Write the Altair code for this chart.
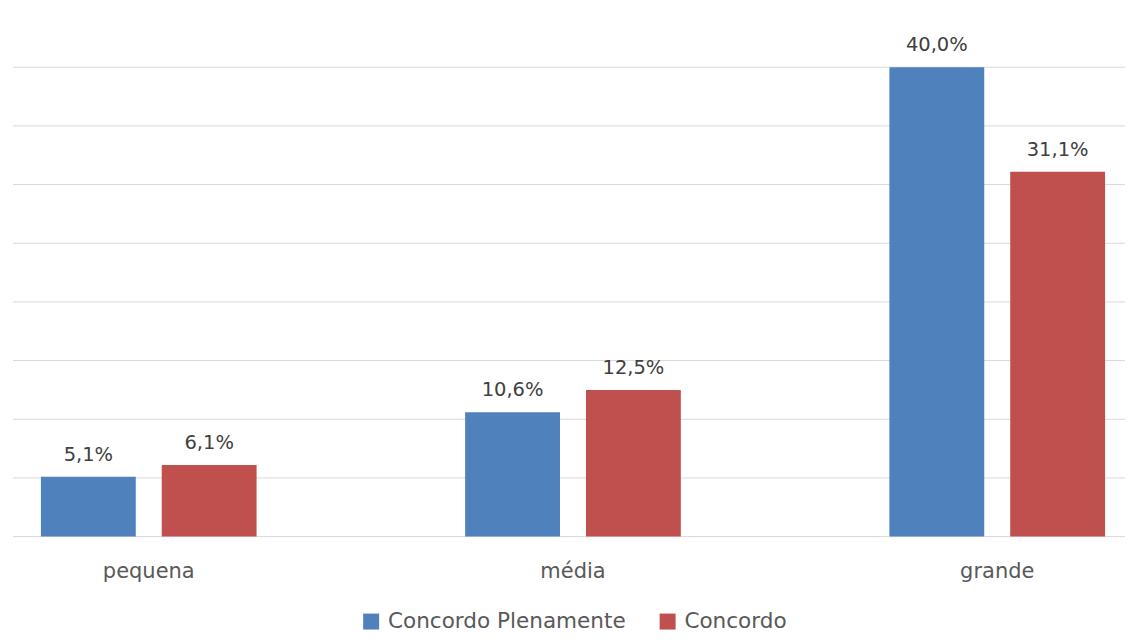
import altair as alt
import pandas as pd

categories = ["pequena", "média", "grande"]
series = ["Concordo Plenamente", "Concordo"]
plenamente = [5.1, 10.6, 40.0]
concordo = [6.1, 12.5, 31.1]
colors = ["#4F81BD", "#C0504D"]
grid_values = [0, 5, 10, 15, 20, 25, 30, 35, 40]

rows = []
for i, c in enumerate(categories):
    for s, vals in zip(series, [plenamente, concordo]):
        v = vals[i]
        rows.append({"cat": c, "serie": s, "valor": v,
                     "rotulo": f"{v:.1f}".replace(".", ",") + "%"})
df = pd.DataFrame(rows)
grid_df = pd.DataFrame({"g": grid_values})
cat_df = pd.DataFrame({"cat": categories})

FONT = "DejaVu Sans"
W, H = 1114, 529

y_scale = alt.Scale(domain=[0, 45], nice=False)
x_scale = alt.Scale(domain=categories, range=[-76.5, 1198.5], paddingInner=0, paddingOuter=0)

x_enc = alt.X("cat:N", sort=categories, scale=x_scale, axis=None)
xoff_enc = alt.XOffset("serie:N", sort=series,
                       scale=alt.Scale(paddingInner=0.215, paddingOuter=0.863))
y_enc = alt.Y("valor:Q", scale=y_scale, axis=None)

grid = alt.Chart(grid_df).mark_rule(color="#d9d9d9", strokeWidth=1).encode(
    x=alt.value(0), x2=alt.value(W),
    y=alt.Y("g:Q", scale=y_scale, axis=None),
)

bars = alt.Chart(df).mark_bar().encode(
    x=x_enc,
    xOffset=xoff_enc,
    y=y_enc,
    color=alt.Color("serie:N", sort=series,
                    scale=alt.Scale(domain=series, range=colors),
                    legend=alt.Legend(title=None, orient="none", direction="horizontal",
                                      legendX=348, legendY=603,
                                      symbolType="square", symbolSize=256,
                                      symbolStrokeWidth=0, labelFont=FONT,
                                      labelFontSize=21.6, labelColor="#595959",
                                      labelOffset=6, columnPadding=31,
                                      labelLimit=600)),
)

labels = alt.Chart(df).mark_text(baseline="alphabetic", dy=-16, font=FONT,
                                 fontSize=19.5, color="#404040").encode(
    x=x_enc,
    xOffset=alt.XOffset("serie:N", sort=series),
    y=alt.Y("valor:Q", scale=y_scale),
    text="rotulo:N",
)

cat_labels = alt.Chart(cat_df).mark_text(baseline="alphabetic", font=FONT,
                                         fontSize=21, color="#595959").encode(
    x=x_enc,
    y=alt.value(570),
    text="cat:N",
)

chart = alt.layer(grid, bars, labels, cat_labels).properties(
    width=W, height=H,
    padding={"left": 4, "top": 0, "right": 0, "bottom": 0},
    background="white",
).configure_view(stroke=None)

chart.save("out.html", embed_options={"renderer": "svg", "actions": False})
